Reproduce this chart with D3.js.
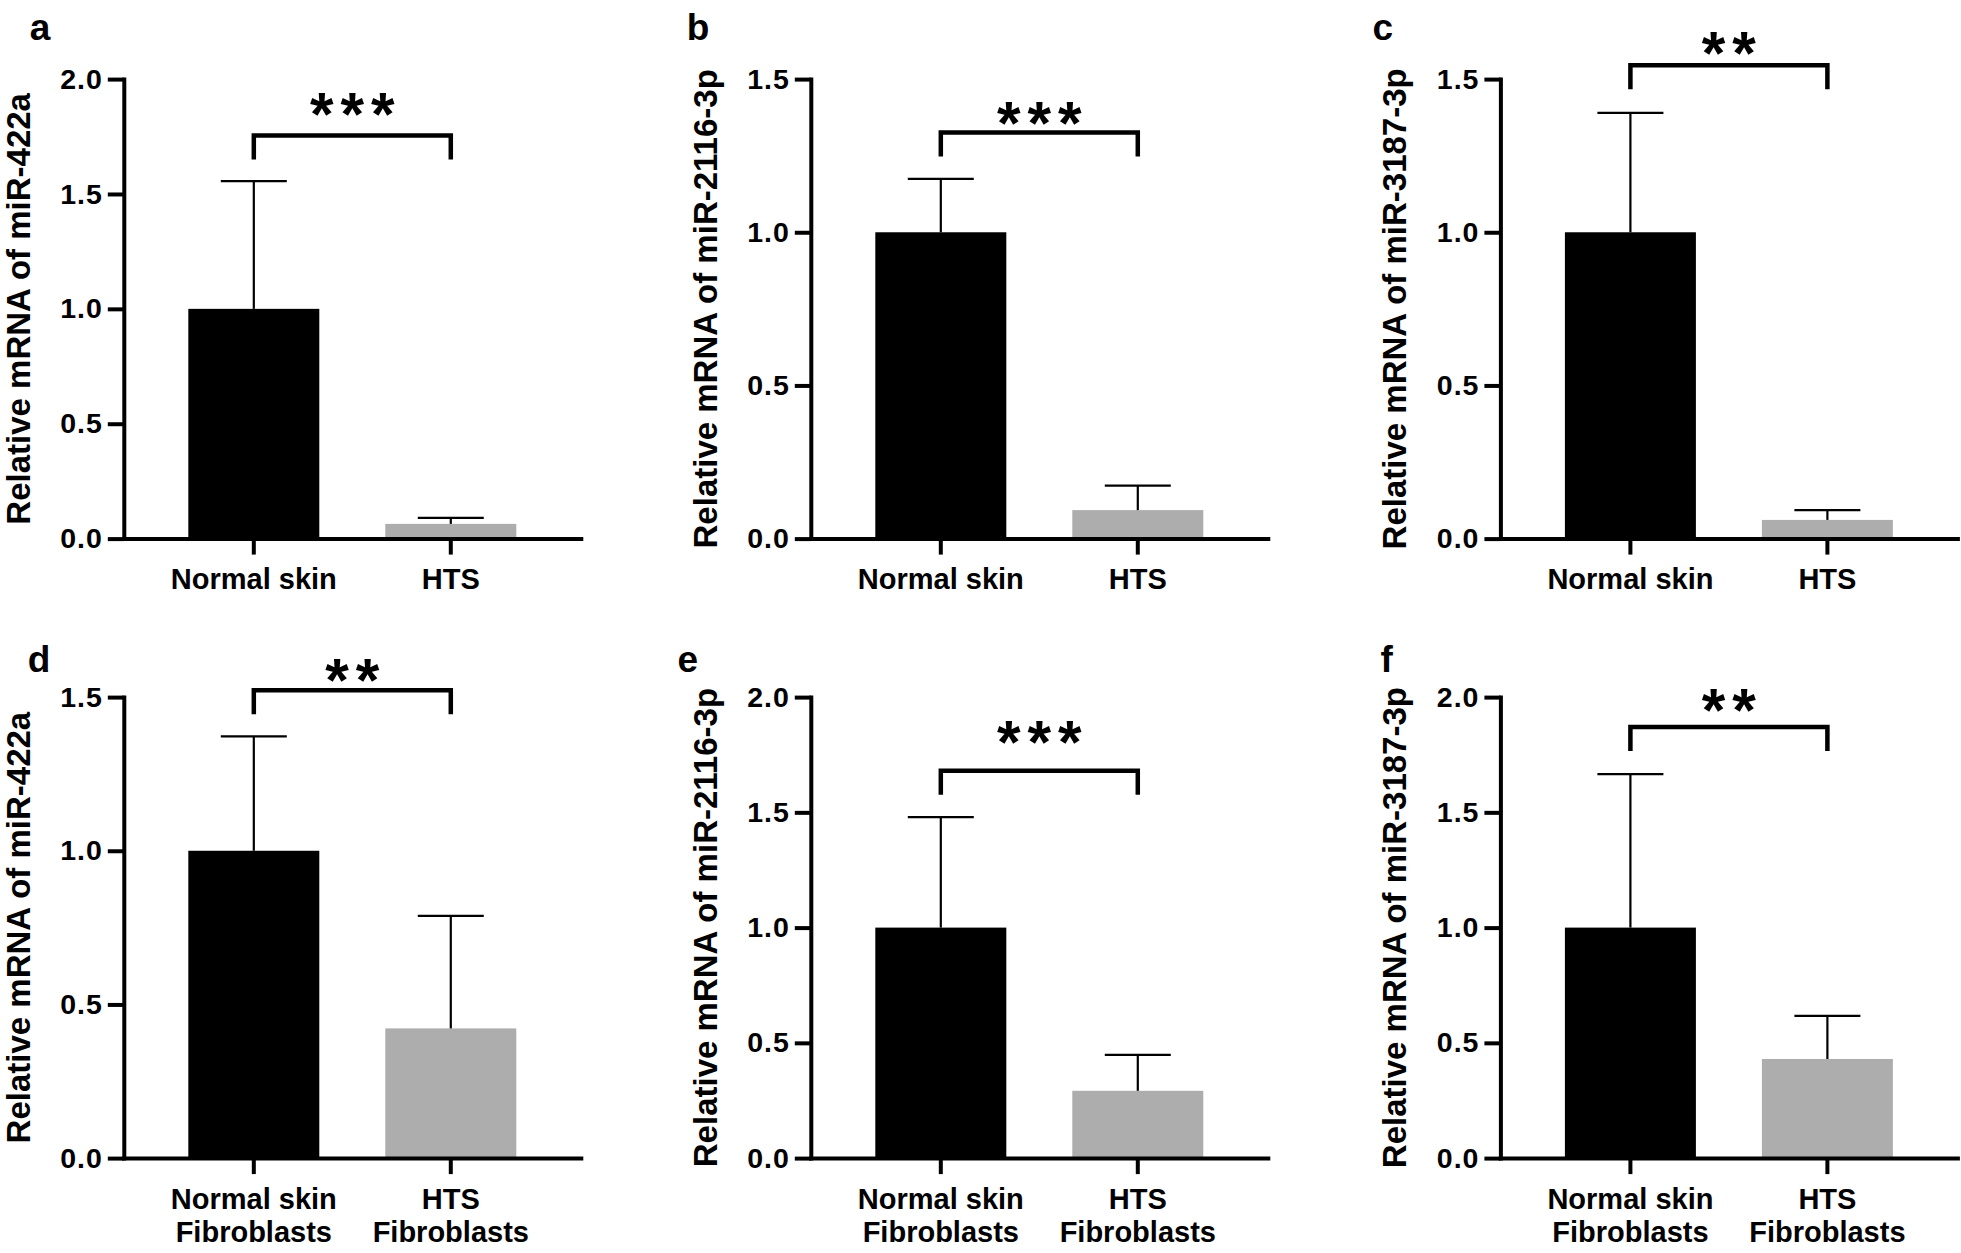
<!DOCTYPE html>
<html><head><meta charset="utf-8">
<script src="https://cdn.jsdelivr.net/npm/d3@7"></script>
<style>body{margin:0;background:#fff} svg{display:block}</style>
</head><body>
<svg id="chart" width="1961" height="1253"></svg>
<script>
// ---------------- data ----------------
const panelLetters = ["a", "b", "c", "d", "e", "f"];
const yTitles = [
  "Relative mRNA of miR-422a",
  "Relative mRNA of miR-2116-3p",
  "Relative mRNA of miR-3187-3p",
  "Relative mRNA of miR-422a",
  "Relative mRNA of miR-2116-3p",
  "Relative mRNA of miR-3187-3p"
];
const tissueCategories = [["Normal skin"], ["HTS"]];
const fibroCategories = [["Normal skin", "Fibroblasts"], ["HTS", "Fibroblasts"]];
const meanValues = [
  [1.0, 0.064],
  [1.0, 0.093],
  [1.0, 0.061],
  [1.0, 0.422],
  [1.0, 0.292],
  [1.0, 0.430]
];
const sdValues = [
  [0.556, 0.026],
  [0.174, 0.080],
  [0.390, 0.032],
  [0.372, 0.366],
  [0.479, 0.156],
  [0.666, 0.187]
];
const yMaxValues = [2.0, 1.5, 1.5, 1.5, 2.0, 2.0];
const yTickValues = [0, 0.5, 1.0, 1.5, 2.0];
const significance = ["***", "***", "**", "**", "***", "**"];
const bracketLevels = [1.754, 1.326, 1.545, 1.522, 1.681, 1.870];
const starLevels = [1.837, 1.348, 1.577, 1.548, 1.794, 1.935];
const barColors = ["#000000", "#adadad"];

// ---------------- layout ----------------
const FONT = "'Liberation Sans', Arial, Helvetica, sans-serif";
const colAxisX = [123.8, 810.8, 1500.4];
const letterX = [[29.7, 686.7, 1372.6], [27.7, 677.6, 1380.5]];
const letterBaseline = [40, 672];
const rowBase = [538.6, 1158.1];
const rowTop = [79.1, 697.1];
const plotW = 457;
const starGlyphH = 23, starPitch = 30.5;

const svg = d3.select("#chart");
const cnv = document.createElement("canvas").getContext("2d");

for (let i = 0; i < 6; i++) {
  const col = i % 3, row = Math.floor(i / 3);
  const ax = colAxisX[col], base = rowBase[row], top = rowTop[row];
  const cats = row === 0 ? tissueCategories : fibroCategories;
  const g = svg.append("g").attr("class", "panel-" + panelLetters[i]);

  const x = d3.scaleBand().domain([0, 1]).range([ax, ax + plotW])
    .paddingInner(0.335).paddingOuter(0.3275);
  const y = d3.scaleLinear().domain([0, yMaxValues[i]]).range([base, top]);

  // bars
  g.selectAll("rect.bar").data(meanValues[i]).join("rect")
    .attr("class", "bar")
    .attr("x", (d, k) => x(k)).attr("width", x.bandwidth())
    .attr("y", d => y(d)).attr("height", d => base - y(d))
    .attr("fill", (d, k) => barColors[k]);

  // error bars (upper only)
  meanValues[i].forEach((m, k) => {
    const cx = x(k) + x.bandwidth() / 2;
    const yt = y(m + sdValues[i][k]);
    g.append("line").attr("x1", cx).attr("x2", cx).attr("y1", y(m)).attr("y2", yt)
      .attr("stroke", "#000").attr("stroke-width", 2.2);
    g.append("line").attr("x1", cx - 33).attr("x2", cx + 33).attr("y1", yt).attr("y2", yt)
      .attr("stroke", "#000").attr("stroke-width", 2.2);
  });

  // y axis
  const yAxis = g.append("g").attr("transform", `translate(${ax},0)`)
    .call(d3.axisLeft(y).tickValues(yTickValues.filter(v => v <= yMaxValues[i] + 1e-9))
      .tickFormat(d3.format(".1f")).tickSize(16).tickPadding(5).tickSizeOuter(0));
  // x axis
  const xAxis = g.append("g").attr("transform", `translate(0,${base})`)
    .call(d3.axisBottom(x).tickSize(16).tickPadding(14).tickSizeOuter(0).tickFormat(""));
  [yAxis, xAxis].forEach(a => {
    a.select(".domain").attr("stroke", "#000").attr("stroke-width", 4).attr("stroke-linecap", "square");
    a.selectAll(".tick line").attr("stroke", "#000").attr("stroke-width", 4);
  });
  yAxis.selectAll(".tick text").attr("font-family", FONT).attr("font-weight", "bold")
    .attr("font-size", 28.5).attr("fill", "#000").style("letter-spacing", "1px");
  xAxis.selectAll(".tick text").each(function (d) {
    const t = d3.select(this);
    t.text(null).attr("dy", null).attr("font-family", FONT).attr("font-weight", "bold")
      .attr("font-size", 29).attr("fill", "#000");
    cats[d].forEach((ln, k) => {
      t.append("tspan").attr("x", 0).attr("dy", k === 0 ? "0.71em" : "1.14em").text(ln);
    });
  });

  // y title
  g.append("text")
    .attr("transform", "rotate(-90)")
    .attr("x", -(base + top) / 2).attr("y", ax - 94)
    .attr("text-anchor", "middle")
    .attr("font-family", FONT).attr("font-weight", "bold").attr("font-size", 33)
    .text(yTitles[i]);

  // panel letter
  g.append("text").attr("x", letterX[row][col]).attr("y", letterBaseline[row])
    .attr("font-family", FONT).attr("font-weight", "bold").attr("font-size", 37)
    .text(panelLetters[i]);

  // significance bracket
  const c1 = x(0) + x.bandwidth() / 2, c2 = x(1) + x.bandwidth() / 2;
  const yb = y(bracketLevels[i]);
  g.append("path")
    .attr("d", `M${c1},${yb + 24}V${yb}H${c2}V${yb + 24}`)
    .attr("fill", "none").attr("stroke", "#000").attr("stroke-width", 4.5);

  // stars (sized / placed from the glyph's measured ink box)
  cnv.font = `bold 100px ${FONT}`;
  const mm = cnv.measureText("*");
  const gh = mm.actualBoundingBoxAscent + mm.actualBoundingBoxDescent;
  const fs = 100 * starGlyphH / gh;
  const sc = fs / 100;
  const adv = mm.width * sc;
  const gl = -mm.actualBoundingBoxLeft * sc, gr = mm.actualBoundingBoxRight * sc;
  const ls = starPitch - adv;
  const n = significance[i].length;
  const totalW = (n - 1) * starPitch + (gr - gl);
  const startX = (c1 + c2) / 2 - totalW / 2 - gl;
  const yBottom = y(starLevels[i]);
  const baseline = yBottom - mm.actualBoundingBoxDescent * sc;
  g.append("text")
    .attr("x", startX).attr("y", baseline)
    .attr("font-family", FONT).attr("font-weight", "bold").attr("font-size", fs)
    .style("letter-spacing", ls + "px")
    .text(significance[i]);
}
</script>
</body></html>
